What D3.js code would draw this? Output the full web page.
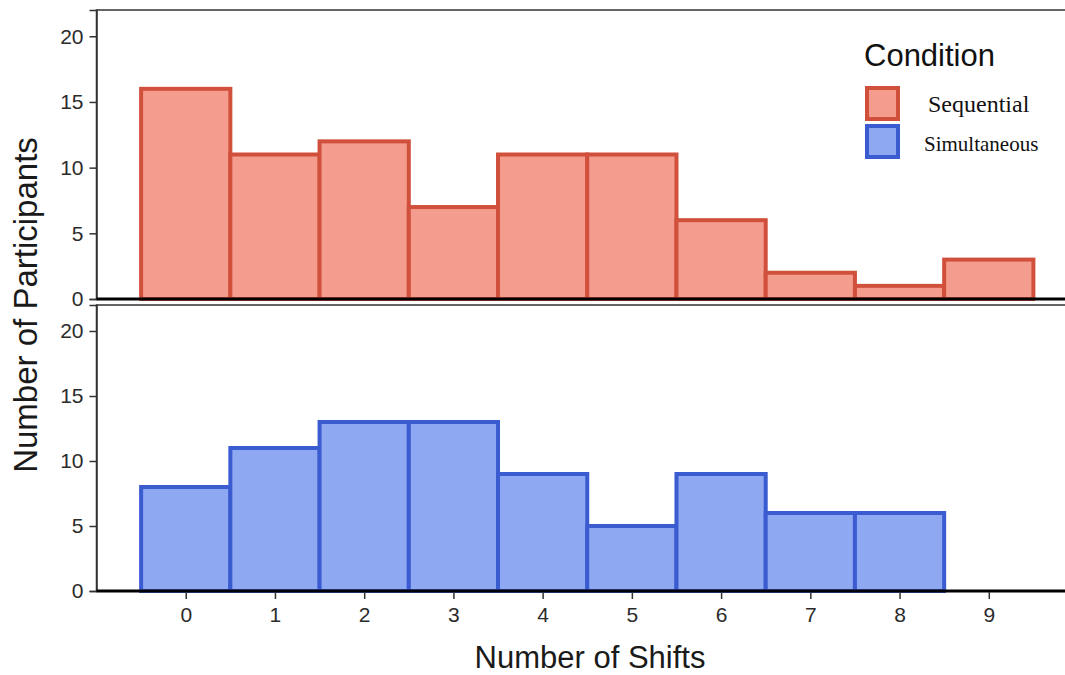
<!DOCTYPE html>
<html>
<head>
<meta charset="utf-8">
<script src="https://cdn.jsdelivr.net/npm/d3@7"></script>
<style>
body { margin: 0; background: #fff; }
.tick text { font-family: "Liberation Sans", Arial, sans-serif; font-size: 21px; fill: #2b2b2b; }
</style>
</head>
<body>
<script>
// data
var shifts = [0, 1, 2, 3, 4, 5, 6, 7, 8, 9];
var sequential = [16, 11, 12, 7, 11, 11, 6, 2, 1, 3];
var simultaneous = [8, 11, 13, 13, 9, 5, 9, 6, 6, 0];
var yTicks = [0, 5, 10, 15, 20];

var panels = [
  {name: "Sequential", values: sequential, fill: "#f49d8f", stroke: "#d0503c", top: 10, bottom: 299},
  {name: "Simultaneous", values: simultaneous, fill: "#8fa8f2", stroke: "#3a5cd0", top: 305, bottom: 591}
];

var svg = d3.select("body").append("svg")
  .attr("width", 1065)
  .attr("height", 675);

var xScale = d3.scaleLinear().domain([-1, 10]).range([96.5, 1078]);

panels.forEach(function(p){
  var yScale = d3.scaleLinear().domain([0, 22]).range([p.bottom, p.top]);
  var g = svg.append("g");

  // panel box
  g.append("rect")
    .attr("x", xScale(-1))
    .attr("y", p.top)
    .attr("width", xScale(10) - xScale(-1))
    .attr("height", p.bottom - p.top)
    .attr("fill", "none")
    .attr("stroke", "#333")
    .attr("stroke-width", 1.5);

  g.selectAll("rect.bar")
    .data(p.values.map(function(v, i){ return {x: shifts[i], v: v}; }).filter(function(d){ return d.v > 0; }))
    .enter().append("rect")
      .attr("class", "bar")
      .attr("x", function(d){ return xScale(d.x - 0.5); })
      .attr("y", function(d){ return yScale(d.v); })
      .attr("width", function(d){ return xScale(d.x + 0.5) - xScale(d.x - 0.5); })
      .attr("height", function(d){ return yScale(0) - yScale(d.v); })
      .attr("fill", p.fill)
      .attr("stroke", p.stroke)
      .attr("stroke-width", 4);

  var yAxis = g.append("g")
    .attr("transform", "translate(" + xScale(-1) + ",0)")
    .call(d3.axisLeft(yScale).tickValues(yTicks).tickSize(7).tickPadding(6));
  yAxis.select(".domain").attr("stroke", "#333").attr("stroke-width", 1.5);
  yAxis.selectAll(".tick line").attr("stroke", "#333").attr("stroke-width", 1.5);

  // thick x axis line
  g.append("line")
    .attr("x1", xScale(-1)).attr("x2", xScale(10))
    .attr("y1", p.bottom).attr("y2", p.bottom)
    .attr("stroke", "#000")
    .attr("stroke-width", 3);
});

var xAxis = svg.append("g")
  .attr("transform", "translate(0," + (panels[1].bottom + 1) + ")")
  .call(d3.axisBottom(xScale).tickValues(shifts).tickSize(7).tickPadding(8));
xAxis.select(".domain").remove();
xAxis.selectAll(".tick line").attr("stroke", "#333").attr("stroke-width", 1.5);

// axis titles
svg.append("text")
  .attr("x", 590)
  .attr("y", 668)
  .attr("text-anchor", "middle")
  .style("font-family", "Liberation Sans, Arial, sans-serif")
  .style("font-size", "31px")
  .attr("fill", "#1a1a1a")
  .text("Number of Shifts");

svg.append("text")
  .attr("transform", "translate(37,305) rotate(-90)")
  .attr("text-anchor", "middle")
  .style("font-family", "Liberation Sans, Arial, sans-serif")
  .style("font-size", "33px")
  .attr("fill", "#1a1a1a")
  .text("Number of Participants");

// legend
var legend = svg.append("g");
legend.append("text")
  .attr("x", 864)
  .attr("y", 66)
  .style("font-family", "Liberation Sans, Arial, sans-serif")
  .style("font-size", "31px")
  .attr("fill", "#111")
  .text("Condition");

var legendLabelX = [928, 924];
var legendFont = [24, 21];
panels.forEach(function(p, i){
  legend.append("rect")
    .attr("x", 867)
    .attr("y", 88 + i * 38)
    .attr("width", 31)
    .attr("height", 31)
    .attr("fill", p.fill)
    .attr("stroke", p.stroke)
    .attr("stroke-width", 4);
  legend.append("text")
    .attr("x", legendLabelX[i])
    .attr("y", 112 + i * 39)
    .style("font-family", "Liberation Serif, Times New Roman, serif")
    .style("font-size", legendFont[i] + "px")
    .attr("fill", "#111")
    .text(p.name);
});
</script>
</body>
</html>
